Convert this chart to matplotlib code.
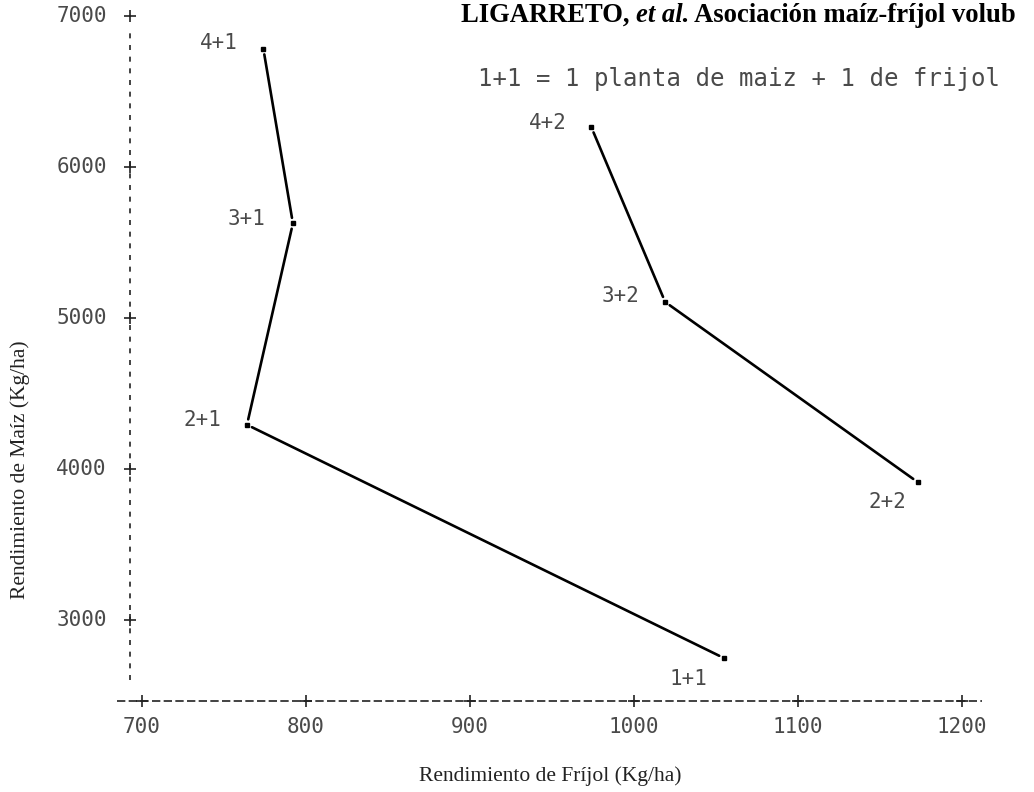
import matplotlib
matplotlib.use('Agg')
import matplotlib.pyplot as plt

### Data (Kg/ha)
labels_1 = ['1+1', '2+1', '3+1', '4+1']
frijol_1 = [1055, 764, 792, 774]
maiz_1   = [2747, 4293, 5627, 6782]

labels_2 = ['2+2', '3+2', '4+2']
frijol_2 = [1173, 1019, 974]
maiz_2   = [3913, 5106, 6263]

xticks = [700, 800, 900, 1000, 1100, 1200]
yticks = [3000, 4000, 5000, 6000, 7000]

title_parts = ['LIGARRETO, ', 'et al.', ' Asociación maíz-fríjol volub']
note   = '1+1 = 1 planta de maiz + 1 de frijol'
xlabel = 'Rendimiento de Fríjol (Kg/ha)'
ylabel = 'Rendimiento de Maíz (Kg/ha)'

### label offsets in pixels, relative to each point
label_offsets = {'1+1': (-36, -21), '2+1': (-45, 5), '3+1': (-46, 4), '4+1': (-45, 6),
                 '2+2': (-30, -20), '3+2': (-45, 6), '4+2': (-43, 4)}

mono = 'DejaVu Sans Mono'
serif = 'Liberation Serif'
txt_col = '#4a4a4a'

fig = plt.figure(figsize=(10.34, 7.92), dpi=100)
ax = fig.add_axes([0, 0, 1, 1])
ax.set_xlim(613.4, 1243.9)
ax.set_ylim(1861, 7106)
ax.axis('off')

### dashed axes with + ticks
ax.plot([692.5, 692.5], [2600, 6930], color='#222222', lw=1.2, ls=(0, (3, 4)))
ax.plot([685, 1212], [2464, 2464], color='#222222', lw=1.2, ls=(0, (5, 2)))
ax.plot([692.5] * len(yticks), yticks, '+', color='#222222', ms=8, mew=1.2)
ax.plot(xticks, [2464] * len(xticks), '+', color='#222222', ms=8, mew=1.2)

for v in yticks:
    ax.annotate(str(v), (692.5, v), xytext=(-23, 0), textcoords='offset pixels',
                ha='right', va='center', fontfamily=mono, fontsize=15, color=txt_col)
for v in xticks:
    ax.annotate(str(v), (v, 2464), xytext=(0, -26), textcoords='offset pixels',
                ha='center', va='center', fontfamily=mono, fontsize=15, color=txt_col)

### the two series, segments drawn with small gaps at the points
for fx, my, labs in [(frijol_1, maiz_1, labels_1), (frijol_2, maiz_2, labels_2)]:
    for i in range(len(fx) - 1):
        ax.annotate('', xy=(fx[i + 1], my[i + 1]), xytext=(fx[i], my[i]),
                    arrowprops=dict(arrowstyle='-', color='black', lw=1.9,
                                    shrinkA=4, shrinkB=4))
    ax.plot(fx, my, 's', ms=3, color='black')
    for x, y, lab in zip(fx, my, labs):
        ax.annotate(lab, (x, y), xytext=label_offsets[lab], textcoords='offset pixels',
                    ha='center', va='center', fontfamily=mono, fontsize=15, color=txt_col)

### note, axis titles
fig.text(478 / 1034, 1 - 79 / 792, note, ha='left', va='center',
         fontfamily=mono, fontsize=17.3, color=txt_col)
fig.text(550 / 1034, 1 - 776 / 792, xlabel, ha='center', va='center',
         fontfamily=serif, fontsize=15.5, color='#222222')
fig.text(20 / 1034, 1 - 470 / 792, ylabel, ha='center', va='center', rotation=90,
         fontfamily=serif, fontsize=15.5, color='#222222')

### running header
t1 = fig.text(461 / 1034, 1 - 22 / 792, title_parts[0], ha='left', va='baseline',
              fontfamily=serif, fontweight='bold', fontsize=19.2, color='black')
t2 = ax.annotate(title_parts[1], xy=(1, 0), xycoords=t1, ha='left', va='bottom',
                 fontfamily=serif, fontweight='bold', fontstyle='italic',
                 fontsize=19.2, color='black')
ax.annotate(title_parts[2], xy=(1, 0), xycoords=t2, ha='left', va='bottom',
            fontfamily=serif, fontweight='bold', fontsize=19.2, color='black')

fig.savefig('out.png', dpi=100)
